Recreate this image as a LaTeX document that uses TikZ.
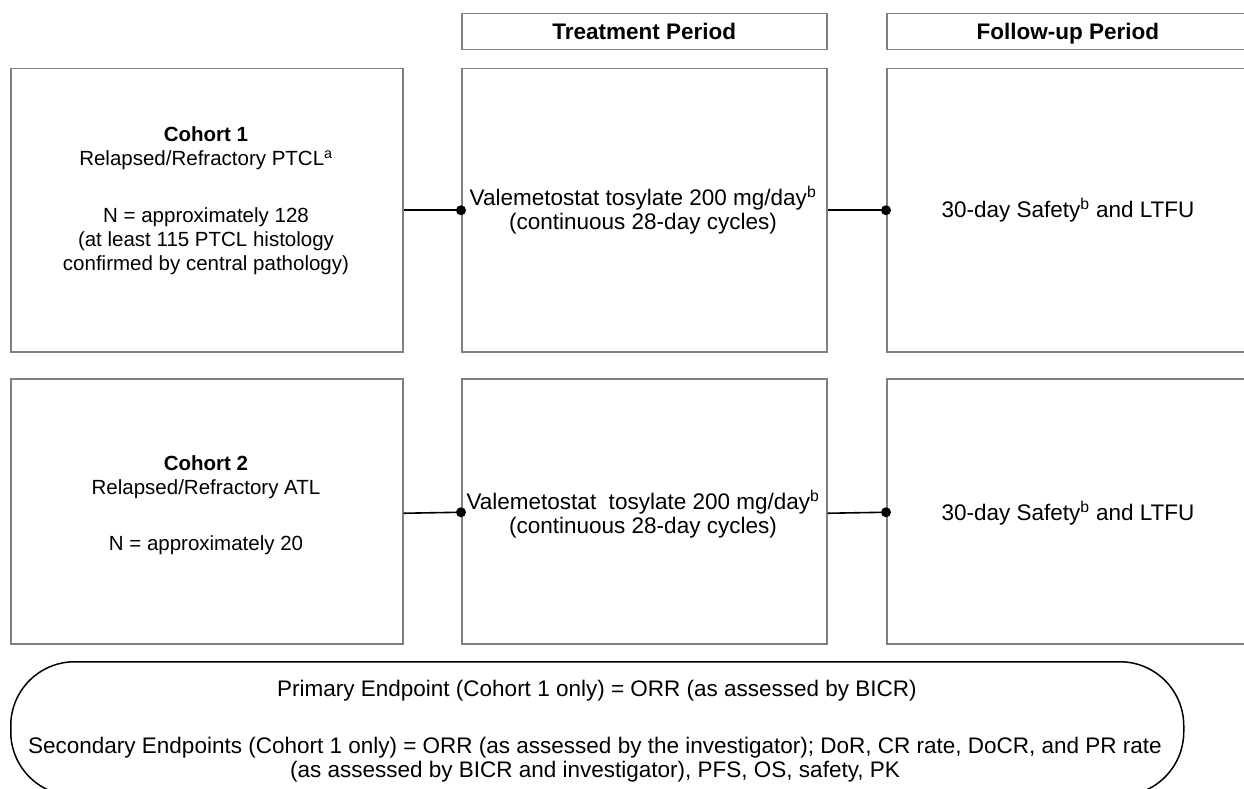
\documentclass[tikz,border=0pt]{standalone}
\usepackage{fontspec}
\setmainfont{Liberation Sans}
\definecolor{boxgray}{RGB}{128,128,128}

\begin{document}
\begin{tikzpicture}[x=1pt, y=-1pt,
  box/.style={draw=boxgray, line width=1.5pt, inner sep=0pt, anchor=north west},
  txt/.style={align=center, font=\fontsize{22.5}{24}\selectfont},
  ltxt/.style={align=center, font=\fontsize{20.5}{24}\selectfont},
  link/.style={line width=1.6pt, black},
  dot/.style={circle, fill=black, inner sep=0pt, minimum size=10pt}]
  \useasboundingbox (0,0) rectangle (1244,789);

  % period headers
  \node[box, minimum width=365pt, minimum height=36pt] (hT) at (461,13) {};
  \node[box, minimum width=362pt, minimum height=36pt] (hF) at (886,13) {};
  \node[txt, anchor=base] at ([yshift=-8pt]hT.center) {\textbf{Treatment Period}};
  \node[txt, anchor=base] at ([yshift=-8pt]hF.center) {\textbf{Follow-up Period}};

  % cohort 1 row
  \node[box, minimum width=392pt, minimum height=283pt] (c1) at (10,68) {};
  \node[box, minimum width=365pt, minimum height=283pt] (m1) at (461,68) {};
  \node[box, minimum width=362pt, minimum height=283pt] (f1) at (886,68) {};
  % cohort 2 row
  \node[box, minimum width=392pt, minimum height=265pt] (c2) at (10,378) {};
  \node[box, minimum width=365pt, minimum height=265pt] (m2) at (461,378) {};
  \node[box, minimum width=362pt, minimum height=265pt] (f2) at (886,378) {};

  \node[ltxt] (c1t) at (206,201) {\textbf{Cohort 1}\\Relapsed/Refractory PTCL\textsuperscript{a}\\[33pt]N = approximately 128\\(at least 115 PTCL histology\\confirmed by central pathology)};
  \node[ltxt] (c2t) at (206,505) {\textbf{Cohort 2}\\Relapsed/Refractory ATL\\[32pt]N = approximately 20};
  \node[txt] (m1t) at (643,210) {Valemetostat tosylate 200 mg/day\textsuperscript{b}\\(continuous 28-day cycles)};
  \node[txt] (m2t) at (643,514) {Valemetostat\ \ tosylate 200 mg/day\textsuperscript{b}\\(continuous 28-day cycles)};
  \node[txt] (f1t) at (1068,210) {30-day Safety\textsuperscript{b} and LTFU};
  \node[txt] (f2t) at (1068,513) {30-day Safety\textsuperscript{b} and LTFU};

  % connectors
  \draw[link] (c1.east) -- (m1.west) node[dot] {};
  \draw[link] (m1.east) -- (f1.west) node[dot] {};
  \draw[link] ([yshift=-2pt]c2.east) -- ([yshift=-1pt]m2.west) node[dot] {};
  \draw[link] ([yshift=-2pt]m2.east) -- ([yshift=-1pt]f2.west) node[dot] {};

  % endpoints
  \node[draw, line width=1.5pt, rounded corners=64pt, inner sep=0pt, anchor=north west,
    minimum width=1173pt, minimum height=134pt] (ep) at (10,661) {};
  \node[txt] (ep1) at (597,691) {Primary Endpoint (Cohort 1 only) = ORR (as assessed by BICR)};
  \node[txt] (ep2) at (595,760) {Secondary Endpoints (Cohort 1 only) = ORR (as assessed by the investigator); DoR, CR rate, DoCR, and PR rate\\(as assessed by BICR and investigator), PFS, OS, safety, PK};
\end{tikzpicture}
\end{document}
